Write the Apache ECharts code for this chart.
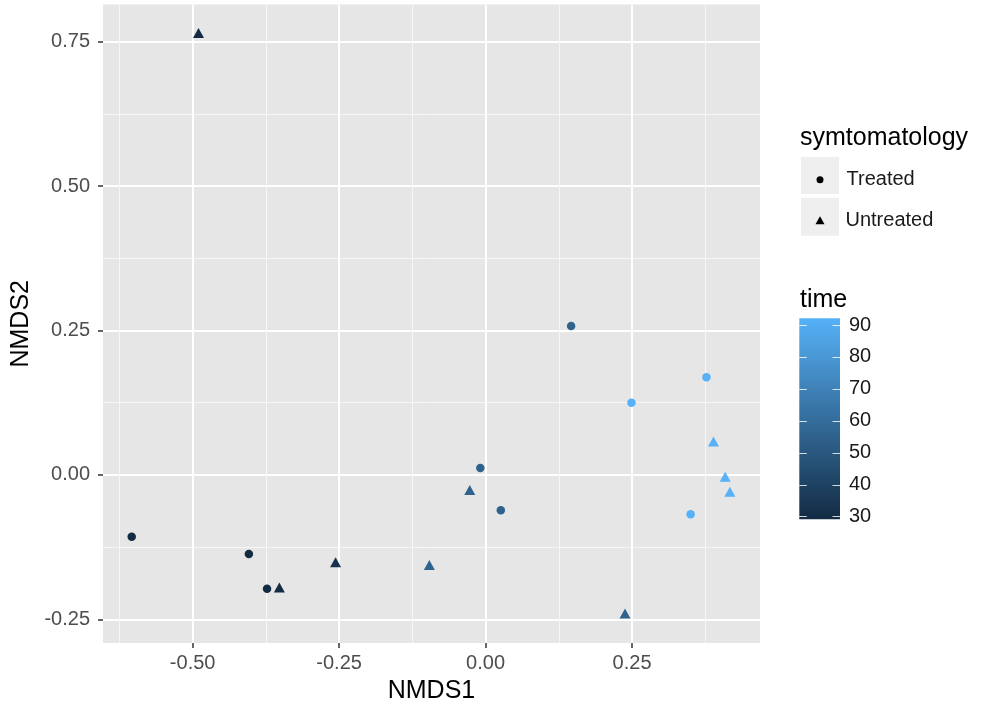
<!DOCTYPE html>
<html>
<head>
<meta charset="utf-8">
<script src="https://cdn.jsdelivr.net/npm/echarts@6/dist/echarts.min.js"></script>
<style>
html,body{margin:0;padding:0;background:#fff;}
#chart{width:981px;height:709px;}
</style>
</head>
<body>
<div id="chart"></div>
<script>
// ---- data ----
var treatedX    = [-0.604, -0.404, -0.373, -0.009, 0.026, 0.146, 0.249, 0.377, 0.350];
var treatedY    = [-0.107, -0.137, -0.197, 0.012, -0.061, 0.258, 0.125, 0.169, -0.068];
var treatedTime = [30, 30, 30, 55, 55, 55, 90, 90, 90];

var untreatedX    = [-0.490, -0.352, -0.256, -0.096, -0.027, 0.238, 0.389, 0.409, 0.417];
var untreatedY    = [0.765, -0.195, -0.151, -0.156, -0.026, -0.240, 0.058, -0.003, -0.029];
var untreatedTime = [30, 30, 33, 55, 55, 55, 90, 90, 90];

var xTicks = [-0.5, -0.25, 0, 0.25];
var xMinor = [-0.625, -0.375, -0.125, 0.125, 0.375];
var yTicks = [-0.25, 0, 0.25, 0.5, 0.75];
var yMinor = [-0.125, 0.125, 0.375, 0.625];
var timeTicks = [30, 40, 50, 60, 70, 80, 90];
var groups = ['Treated', 'Untreated'];

function pts(xs, ys, ts) {
  return xs.map(function (x, i) { return [x, ys[i], ts[i]]; });
}

var FONT = '"Liberation Sans", Arial, Helvetica, sans-serif';
var LOW = '#132B43', HIGH = '#56B1F7';

var chart = echarts.init(document.getElementById('chart'), null, {renderer: 'canvas'});

var option = {
  animation: false,
  backgroundColor: '#ffffff',
  textStyle: {fontFamily: FONT},
  grid: [
    {left: 103, top: 4.5, width: 657, height: 638.5, show: true, backgroundColor: '#E6E6E6', borderWidth: 0, containLabel: false},
    {left: 799.3, top: 325, width: 40.7, height: 191.7, containLabel: false}
  ],
  xAxis: [
    {
      type: 'value', gridIndex: 0, min: -0.653, max: 0.4684, position: 'bottom',
      name: 'NMDS1', nameLocation: 'middle', nameGap: 36,
      nameTextStyle: {fontSize: 25, color: '#000', fontFamily: FONT},
      axisLine: {show: false, onZero: false},
      axisTick: {show: true, length: 5, lineStyle: {color: '#333', width: 1.5}, customValues: xTicks},
      axisLabel: {show: true, customValues: xTicks, fontSize: 20, color: '#4D4D4D', margin: 10, fontFamily: FONT,
        formatter: function (v) { return Number(v).toFixed(2); }},
      splitLine: {show: true, lineStyle: {color: '#ffffff', width: 2}}
    },
    {
      type: 'value', gridIndex: 0, min: -0.653, max: 0.4684, position: 'top',
      axisLine: {show: false, onZero: false},
      axisTick: {show: false, customValues: xMinor},
      axisLabel: {show: false, customValues: xMinor},
      splitLine: {show: true, lineStyle: {color: '#F7F7F7', width: 1}}
    },
    {type: 'value', gridIndex: 1, min: 0, max: 1, show: false, axisLine: {onZero: false}}
  ],
  yAxis: [
    {
      type: 'value', gridIndex: 0, min: -0.291, max: 0.8144, position: 'left',
      name: 'NMDS2', nameLocation: 'middle', nameGap: 68, nameRotate: 90,
      nameTextStyle: {fontSize: 25, color: '#000', fontFamily: FONT},
      axisLine: {show: false, onZero: false},
      axisTick: {show: true, length: 5, lineStyle: {color: '#333', width: 1.5}, customValues: yTicks},
      axisLabel: {show: true, customValues: yTicks, fontSize: 20, color: '#4D4D4D', margin: 13, fontFamily: FONT,
        formatter: function (v) { return Number(v).toFixed(2); }},
      splitLine: {show: true, lineStyle: {color: '#ffffff', width: 2}}
    },
    {
      type: 'value', gridIndex: 0, min: -0.291, max: 0.8144, position: 'right',
      axisLine: {show: false, onZero: false},
      axisTick: {show: false, customValues: yMinor},
      axisLabel: {show: false, customValues: yMinor},
      splitLine: {show: true, lineStyle: {color: '#F7F7F7', width: 1}}
    },
    {
      type: 'value', gridIndex: 1, min: 30, max: 90, interval: 10, position: 'left', z: 5,
      axisLine: {show: false, onZero: false},
      axisTick: {show: true, inside: true, length: 7.5, lineStyle: {color: 'rgba(255,255,255,0.8)', width: 1}},
      axisLabel: {show: false},
      splitLine: {show: false}
    },
    {
      type: 'value', gridIndex: 1, min: 30, max: 90, interval: 10, position: 'right', z: 5,
      axisLine: {show: false, onZero: false},
      axisTick: {show: true, inside: true, length: 7.5, lineStyle: {color: 'rgba(255,255,255,0.8)', width: 1}},
      axisLabel: {show: true, margin: 9, fontSize: 20, color: '#1a1a1a', fontFamily: FONT,
        customValues: timeTicks},
      splitLine: {show: false}
    }
  ],
  visualMap: [{
    type: 'continuous', show: false, min: 30, max: 90, dimension: 2,
    seriesIndex: [0, 1], inRange: {color: [LOW, HIGH]}
  }],
  legend: [
    {
      data: [{name: groups[0], icon: 'circle', itemStyle: {color: '#000'}}],
      orient: 'vertical', left: 816.5, top: 169.7, itemWidth: 7, itemHeight: 7,
      selectedMode: false, padding: 0,
      textStyle: {fontSize: 20, color: '#1a1a1a', lineHeight: 16, padding: [0, 0, 0, 18], fontFamily: FONT}
    },
    {
      data: [{name: groups[1], icon: 'triangle', itemStyle: {color: '#000'}}],
      orient: 'vertical', left: 815.5, top: 210.3, itemWidth: 9, itemHeight: 8,
      selectedMode: false, padding: 0,
      textStyle: {fontSize: 20, color: '#1a1a1a', lineHeight: 16, padding: [0, 0, 0, 16], fontFamily: FONT}
    }
  ],
  graphic: [
    {type: 'rect', left: 801, top: 157, shape: {width: 38, height: 37}, style: {fill: '#EFEFEF'}, z: 0},
    {type: 'rect', left: 801, top: 197.7, shape: {width: 38, height: 38}, style: {fill: '#EFEFEF'}, z: 0},
    {type: 'text', x: 800, y: 137.7, style: {text: 'symtomatology', font: '25px ' + FONT, fill: '#000', verticalAlign: 'middle', align: 'left'}},
    {type: 'text', x: 800, y: 300.5, style: {text: 'time', font: '25px ' + FONT, fill: '#000', verticalAlign: 'middle', align: 'left'}},
    {type: 'rect', shape: {x: 799.3, y: 318.3, width: 40.7, height: 201}, z: 0,
      style: {fill: {type: 'linear', x: 0, y: 0, x2: 0, y2: 1, colorStops: [{offset: 0, color: HIGH}, {offset: 1, color: LOW}]}}}
  ],
  series: [
    {
      name: groups[0], type: 'scatter', xAxisIndex: 0, yAxisIndex: 0,
      symbol: 'circle', symbolSize: 8.5, itemStyle: {opacity: 1},
      data: pts(treatedX, treatedY, treatedTime)
    },
    {
      name: groups[1], type: 'scatter', xAxisIndex: 0, yAxisIndex: 0,
      symbol: 'triangle', symbolSize: [11, 10], itemStyle: {opacity: 1},
      data: pts(untreatedX, untreatedY, untreatedTime)
    }
  ]
};
chart.setOption(option);
</script>
</body>
</html>
